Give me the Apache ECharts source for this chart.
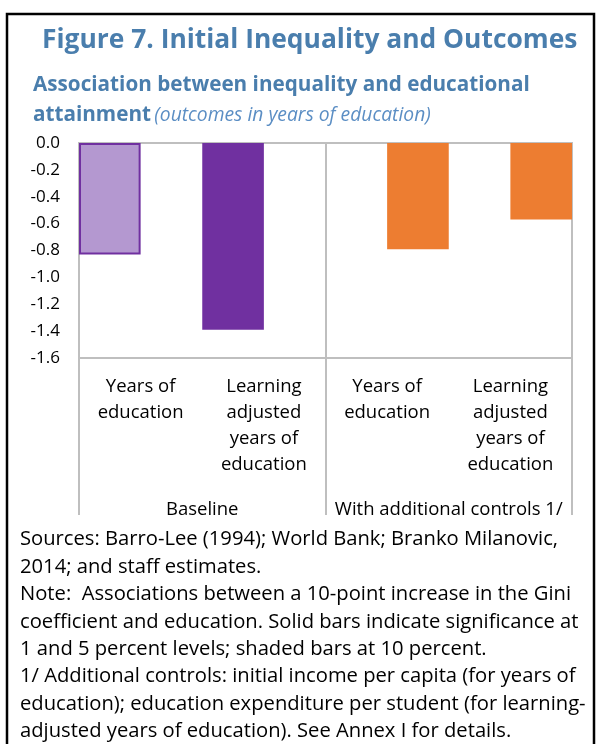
<!DOCTYPE html>
<html>
<head>
<meta charset="utf-8">
<script src="https://cdn.jsdelivr.net/npm/echarts@6/dist/echarts.min.js"></script>
<style>
  html, body { margin: 0; padding: 0; background: #fff; }
  #chart { width: 604px; height: 744px; }
</style>
</head>
<body>
<div id="chart"></div>
<script>
// chart data
const categories = ['Years of\neducation', 'Learning\nadjusted\nyears of\neducation', 'Years of\neducation', 'Learning\nadjusted\nyears of\neducation']
const groups = ['Baseline', 'With additional controls 1/']
const baselineValues = [-0.83, -1.39, null, null]
const controlsValues = [null, null, -0.79, -0.57]
// true = significant at 1/5 percent (solid), false = 10 percent (shaded)
const solidBars = [false, true, true, true]
const yMin = -1.6
const yMax = 0
const yStep = 0.2

const notes = [
  'Sources: Barro-Lee (1994); World Bank; Branko Milanovic,',
  '2014; and staff estimates.',
  'Note:  Associations between a 10-point increase in the Gini',
  'coefficient and education. Solid bars indicate significance at',
  '1 and 5 percent levels; shaded bars at 10 percent.',
  '1/ Additional controls: initial income per capita (for years of',
  'education); education expenditure per student (for learning-',
  'adjusted years of education). See Annex I for details.'
]

const FONT = '"Open Sans", "Noto Sans", sans-serif'
const BLUE = '#4a7ead'
const GRAY = '#bfbfbf'

const chart = echarts.init(document.getElementById('chart'))

function barItems(values, color) {
  return values.map((v, i) => {
    if (v === null) return null
    if (solidBars[i]) return { value: v, itemStyle: { color: color } }
    return { value: v, itemStyle: { color: '#b498d0', borderColor: '#7030a0', borderWidth: 2 } }
  })
}

const option = {
  animation: false,
  backgroundColor: '#fff',
  textStyle: { fontFamily: FONT },
  grid: {
    left: 79, right: 32, top: 143, bottom: 386,
    show: true, borderColor: GRAY, borderWidth: 2, containLabel: false
  },
  xAxis: [
    {
      type: 'category',
      data: categories,
      position: 'bottom',
      axisLine: { show: false, onZero: false },
      axisTick: { show: false },
      splitLine: { show: false },
      axisLabel: {
        interval: 0, color: '#000', fontSize: 18.5, lineHeight: 26,
        margin: 16, fontFamily: FONT
      }
    },
    {
      type: 'category',
      data: groups,
      position: 'bottom',
      axisLine: { show: false, onZero: false },
      axisTick: { show: true, length: 157, lineStyle: { color: GRAY, width: 2 } },
      splitLine: { show: true, lineStyle: { color: GRAY, width: 2 } },
      axisLabel: {
        interval: 0, color: '#000', fontSize: 18.5, margin: 142, fontFamily: FONT
      }
    }
  ],
  yAxis: {
    type: 'value',
    min: yMin, max: yMax, interval: yStep,
    axisLine: { show: false },
    axisTick: { show: false },
    splitLine: { show: false },
    axisLabel: {
      color: '#000', fontSize: 17, margin: 19, fontFamily: FONT,
      formatter: v => v.toFixed(1)
    }
  },
  series: [
    {
      name: 'Baseline', type: 'bar', xAxisIndex: 0,
      data: barItems(baselineValues, '#7030a0'),
      barGap: '0%', barCategoryGap: '0%'
    },
    {
      name: 'With additional controls', type: 'bar', xAxisIndex: 0,
      data: barItems(controlsValues, '#ed7d31'),
      barGap: '0%', barCategoryGap: '0%'
    }
  ],
  graphic: [
    {
      type: 'rect', z: 100, silent: true,
      shape: { x: 7, y: 14, width: 587, height: 800 },
      style: { fill: null, stroke: '#000', lineWidth: 2.5 }
    },
    {
      type: 'text', left: 42, top: 27,
      style: {
        text: 'Figure 7. Initial Inequality and Outcomes',
        fill: BLUE, font: '700 26.4px ' + FONT
      }
    },
    {
      type: 'text', left: 33, top: 75,
      style: {
        text: '{b|Association between inequality and educational}\n{b|attainment} {i|(outcomes in years of education)}',
        rich: {
          b: { fill: BLUE, font: '700 20.7px ' + FONT, lineHeight: 30 },
          i: { fill: '#5b8ec4', font: 'italic 400 19.3px ' + FONT, lineHeight: 30 }
        }
      }
    },
    {
      type: 'text', left: 20, top: 526,
      style: {
        text: notes.join('\n'),
        fill: '#000', font: '400 20.2px ' + FONT, lineHeight: 27.4
      }
    }
  ]
}

chart.setOption(option)
</script>
</body>
</html>
